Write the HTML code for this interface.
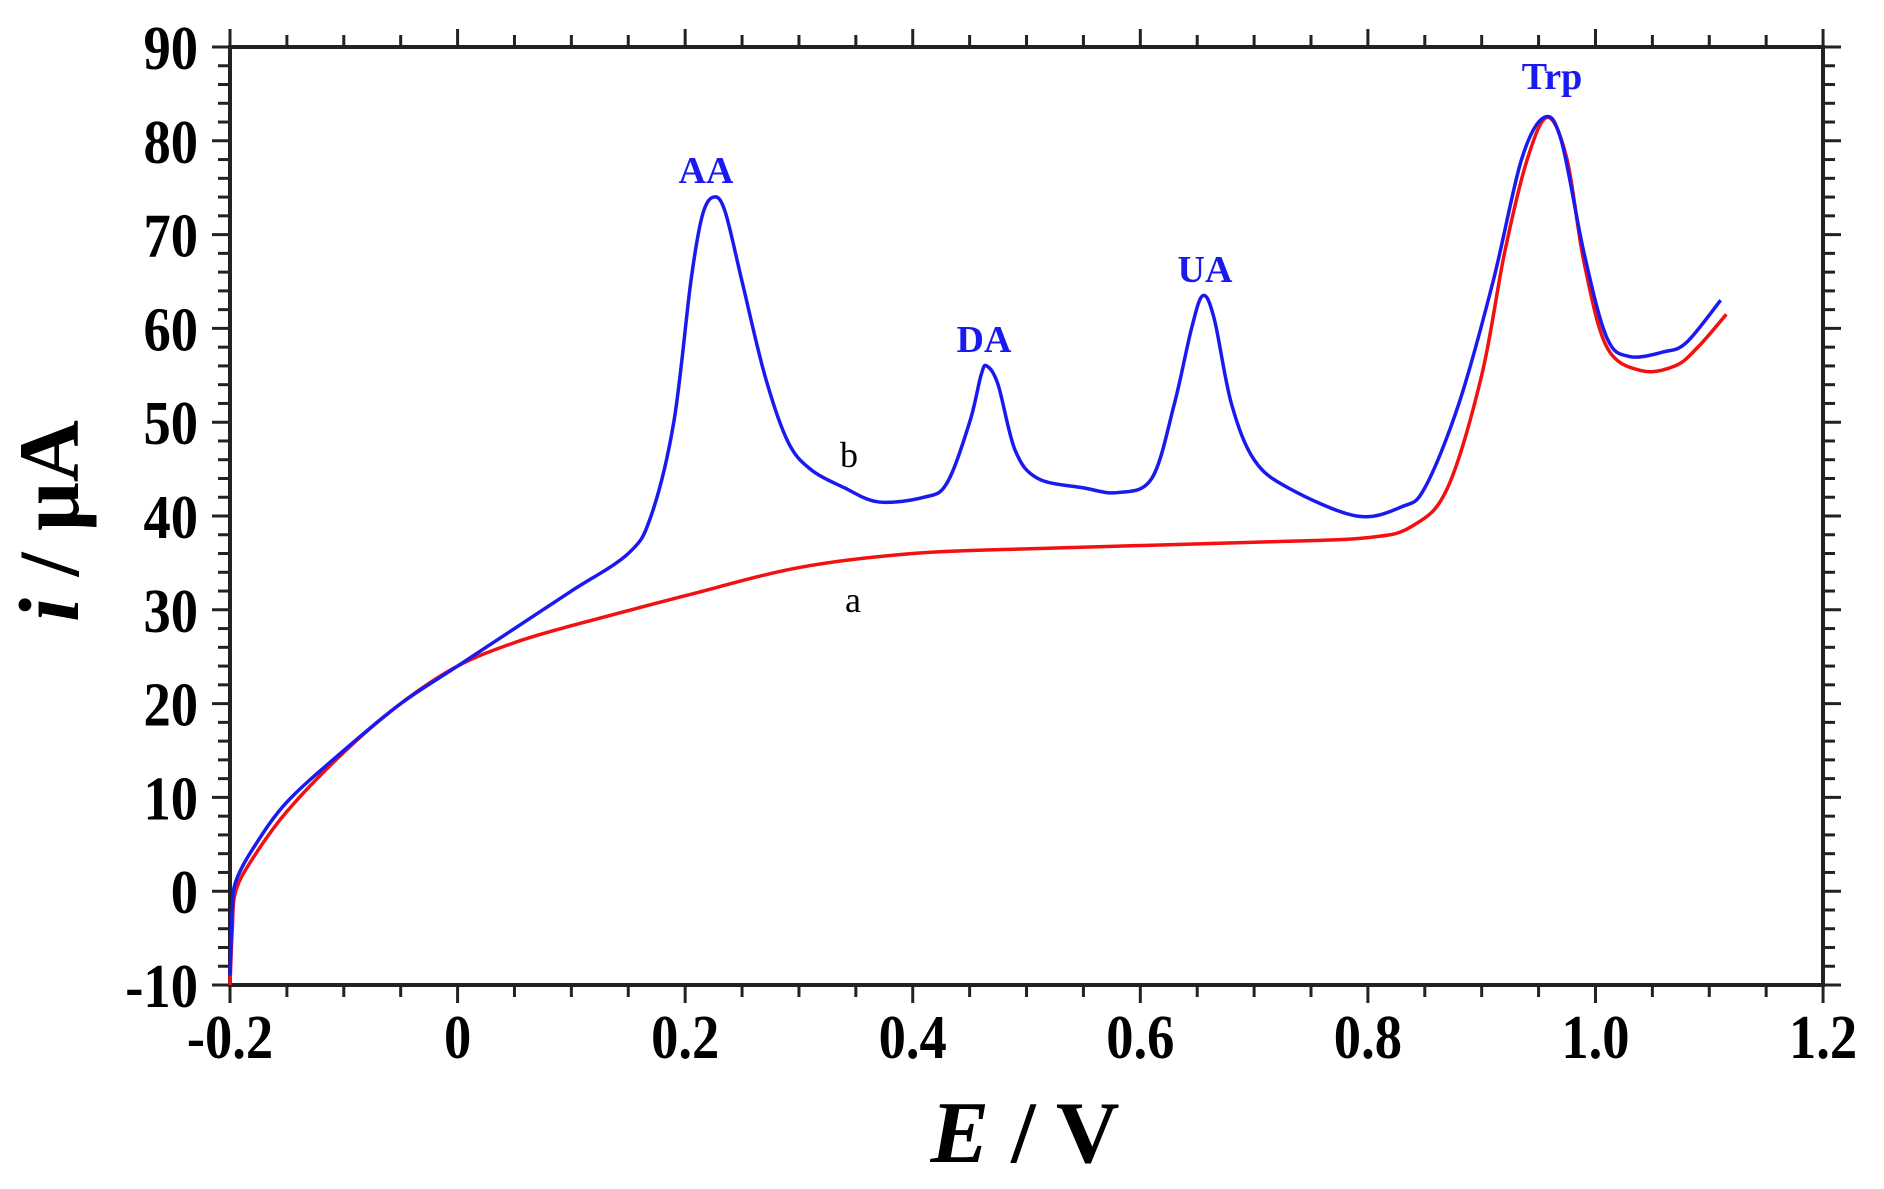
<!DOCTYPE html>
<html><head><meta charset="utf-8"><style>
html,body{margin:0;padding:0;background:#fff;}
svg{display:block;}
text{font-family:"Liberation Serif",serif;font-weight:bold;}
</style></head><body>
<svg id="s" width="1884" height="1189" viewBox="0 0 1884 1189" xmlns="http://www.w3.org/2000/svg">
<rect width="1884" height="1189" fill="#fff"/>
<g id="ticks" stroke="#222" stroke-width="3"></g>
<rect x="230" y="47" width="1593" height="938" fill="none" stroke="#222" stroke-width="4"/>
<g id="lab" font-size="62" fill="#000"></g>
<path id="red" fill="none" stroke="#f21010" stroke-width="3.5"/>
<path id="blue" fill="none" stroke="#1a1af0" stroke-width="3.5"/>
<g fill="#1a1af0" font-size="38">
<text x="706" y="183" text-anchor="middle">AA</text>
<text x="984" y="352" text-anchor="middle">DA</text>
<text x="1205" y="282" text-anchor="middle">UA</text>
<text x="1552" y="89" text-anchor="middle">Trp</text>
</g>
<g fill="#000" font-size="36">
<text x="849" y="467" text-anchor="middle" style="font-weight:normal">b</text>
<text x="853" y="612" text-anchor="middle" style="font-weight:normal">a</text>
</g>
<text x="1025" y="1162" text-anchor="middle" font-size="88"><tspan font-style="italic">E</tspan> / V</text>
<text transform="translate(78,521) rotate(-90)" text-anchor="middle" font-size="86"><tspan font-style="italic">i</tspan> / μA</text>
</svg>
<script>
const X=v=>230+(v+0.2)*1137.9, Y=i=>985-(i+10)*9.38;
const ns="http://www.w3.org/2000/svg";
const tk=document.getElementById('ticks'), lab=document.getElementById('lab');
function L(x1,y1,x2,y2){const l=document.createElementNS(ns,'line');l.setAttribute('x1',x1);l.setAttribute('y1',y1);l.setAttribute('x2',x2);l.setAttribute('y2',y2);tk.appendChild(l);}
for(let k=0;k<=28;k++){const x=X(-0.2+k*0.05);const m=k%4==0;L(x,985,x,985+(m?18:12));L(x,47,x,47-(m?18:12));}
for(let k=0;k<=50;k++){const y=Y(-10+k*2);const m=k%5==0;L(230,y,230-(m?18:12),y);L(1823,y,1823+(m?18:12),y);}
function T(x,y,s,a){const t=document.createElementNS(ns,'text');t.setAttribute('x',x);t.setAttribute('y',y);t.setAttribute('text-anchor',a);t.setAttribute('transform',`translate(${x},0) scale(0.88,1) translate(${-x},0)`);t.textContent=s;lab.appendChild(t);}
for(let k=0;k<=10;k++){const v=-10+k*10;T(198,Y(v)+22,String(v),'end');}
const xl=['-0.2','0','0.2','0.4','0.6','0.8','1.0','1.2'];
xl.forEach((s,k)=>T(X(-0.2+k*0.2),1058,s,'middle'));
const blue=[[-0.2,-9],[-0.198,-2],[-0.195,1],[-0.18,4.5],[-0.15,9.5],[-0.1,15],[-0.05,20],[0,24],[0.05,28],[0.1,32],[0.15,36],[0.17,40],[0.19,50],[0.205,65],[0.215,72],[0.225,74],[0.235,72.5],[0.25,65],[0.27,55],[0.29,48],[0.31,45],[0.34,43],[0.37,41.5],[0.41,42],[0.43,43.5],[0.45,50],[0.46,55],[0.465,56],[0.475,54],[0.49,47],[0.51,44],[0.55,43],[0.58,42.5],[0.61,44],[0.63,52],[0.645,60],[0.655,63.5],[0.665,61],[0.68,52],[0.7,46],[0.73,43],[0.79,40],[0.83,41],[0.85,43],[0.88,52],[0.91,65],[0.935,78],[0.955,82.5],[0.97,80],[0.99,68],[1.01,59],[1.03,57],[1.06,57.5],[1.08,58.5],[1.11,63]];
const red=[[-0.2,-10],[-0.198,-4],[-0.195,0],[-0.18,3.5],[-0.15,8.5],[-0.1,14.8],[-0.05,20],[0,24],[0.05,26.5],[0.1,28.3],[0.2,31.5],[0.3,34.5],[0.4,36],[0.5,36.5],[0.7,37.2],[0.8,37.7],[0.84,39],[0.87,43],[0.9,55],[0.92,68],[0.94,78],[0.958,82.5],[0.975,78],[0.99,67],[1.01,58],[1.04,55.5],[1.07,56],[1.09,58],[1.115,61.5]];
function path(d){const p=d.map(([v,i])=>[X(v),Y(i)]);let s=`M${p[0][0]},${p[0][1]}`;
for(let k=0;k<p.length-1;k++){const p0=p[Math.max(k-1,0)],p1=p[k],p2=p[k+1],p3=p[Math.min(k+2,p.length-1)];
s+=` C${p1[0]+(p2[0]-p0[0])/6},${p1[1]+(p2[1]-p0[1])/6} ${p2[0]-(p3[0]-p1[0])/6},${p2[1]-(p3[1]-p1[1])/6} ${p2[0]},${p2[1]}`;}return s;}
document.getElementById('red').setAttribute('d',path(red));
document.getElementById('blue').setAttribute('d',path(blue));
</script>
</body></html>
